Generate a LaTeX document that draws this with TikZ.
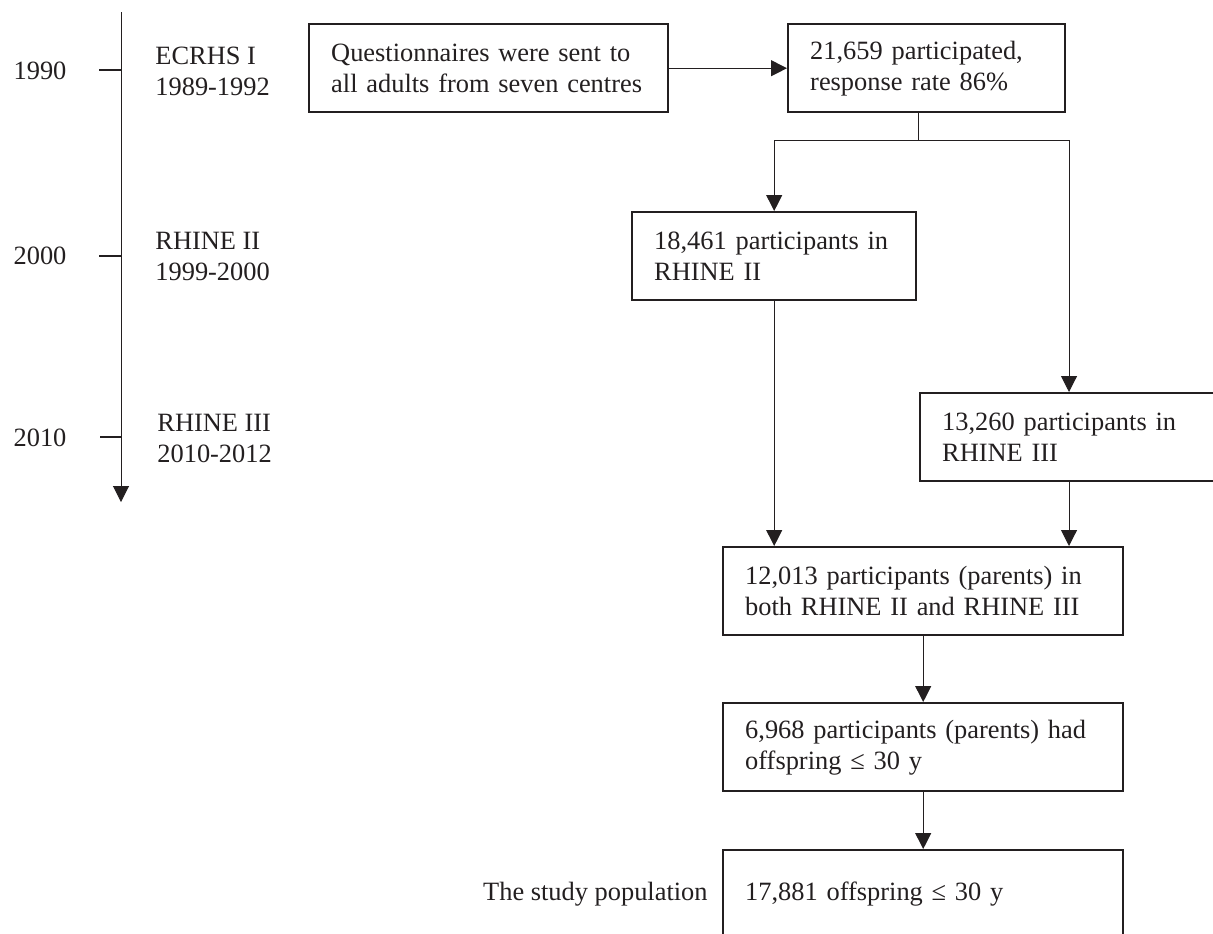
\documentclass[tikz,border=0pt]{standalone}
\usepackage{fontspec}
\setmainfont{Liberation Serif}
\usepackage{tikz}
\usetikzlibrary{arrows.meta,positioning}
\definecolor{ink}{RGB}{35,31,32}
\hyphenpenalty=10000

\begin{document}
\begin{tikzpicture}[
    x=0.5pt, y=-0.5pt,
    font=\fontsize{13.2pt}{15.5pt}\selectfont,
    every node/.style={text=ink},
    box/.style={draw=ink, line width=1.2pt, anchor=north west, align=left, inner xsep=11pt, minimum height=44pt},
    lbl/.style={inner sep=0pt, align=left, anchor=west},
    yr/.style={inner sep=0pt},
    arr/.style={-{Triangle[length=8pt, width=8pt]}, draw=ink, line width=0.5pt},
    plain/.style={draw=ink, line width=0.5pt},
    tickline/.style={draw=ink, line width=0.7pt},
]
    \useasboundingbox (0,0) rectangle (1213,933);
    \clip (0,0) rectangle (1213,933);

    % Timeline
    \coordinate (ttop) at (121,12);
    \coordinate (tend) at (121,502);
    \draw[arr] (ttop) -- (tend);
    \node[yr] (y1990) at (40,71) {1990};
    \node[yr] (y2000) at (40,256) {2000};
    \node[yr] (y2010) at (40,438) {2010};
    \draw[tickline] (99,70) -- (121,70);
    \draw[tickline] (99,256) -- (121,256);
    \draw[tickline] (100,437) -- (121,437);
    \node[lbl] (ecrhs) at (155,71) {ECRHS I\\1989-1992};
    \node[lbl] (rhineii) at (155,256) {RHINE II\\1999-2000};
    \node[lbl] (rhineiii) at (157,438) {RHINE III\\2010-2012};

    % Boxes
    \node[box, text width=157.5pt] (quest) at (308,23) {Questionnaires were sent to\\all adults from seven centres};
    \node[box, text width=116.5pt] (part) at (787,23) {21,659 participated,\\response rate 86\%};
    \node[box, text width=120pt] (rhine2) at (631,211) {18,461 participants in\\RHINE II};
    \node[box, text width=160pt] (rhine3) at (919,392) {13,260 participants in\\RHINE III};
    \node[box, text width=178pt] (both) at (722,546) {12,013 participants (parents) in\\both RHINE II and RHINE III};
    \node[box, text width=178pt] (parents) at (722,702) {6,968 participants (parents) had\\offspring ≤ 30 y};
    \node[box, text width=178pt] (study) at (722,849) {17,881 offspring ≤ 30 y};
    \node[inner sep=0pt, left=7pt of study] (pop) {The study population};

    % Arrows
    \coordinate (fork) at (918,140);
    \coordinate (rbranch) at (1069,140);
    \draw[arr] (quest) -- (part);
    \draw[plain] (fork |- part.south) -- (fork);
    \draw[arr] (fork) -| (rhine2.north);
    \draw[arr] (fork) -- (rbranch) -- (rbranch |- rhine3.north);
    \draw[arr] (rhine2.south) -- (rhine2.south |- both.north);
    \draw[arr] (rbranch |- rhine3.south) -- (rbranch |- both.north);
    \draw[arr] (both) -- (parents);
    \draw[arr] (parents) -- (study);
\end{tikzpicture}
\end{document}
